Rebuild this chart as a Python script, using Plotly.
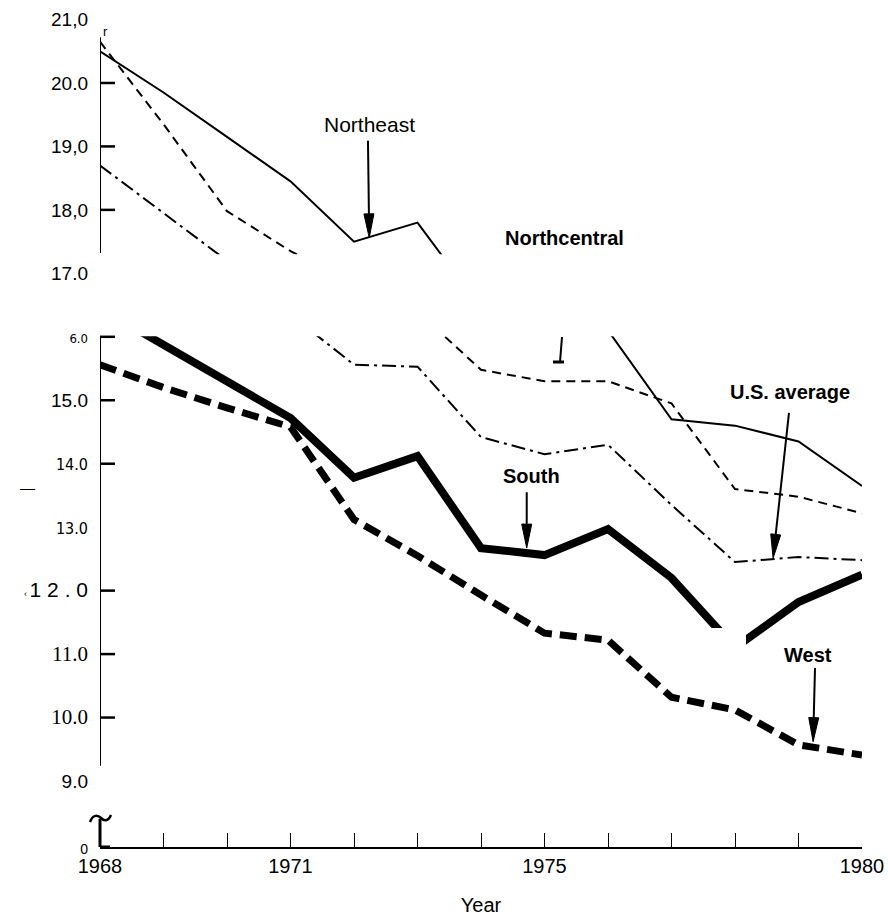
import math
import plotly.graph_objects as go

# ---------------- data ----------------
years = list(range(1968, 1981))
northeast = [20.5, 19.85, 19.15, 18.45, 17.5, 17.8, 16.45, 16.3, 16.1, 14.7, 14.6, 14.35, 13.65]
northcentral = [20.65, 19.35, 17.98, 17.35, 16.85, 16.4, 15.48, 15.3, 15.3, 14.95, 13.6, 13.48, 13.22]
us_average = [18.7, 17.95, 17.2, 16.35, 15.56, 15.53, 14.42, 14.15, 14.3, 13.35, 12.45, 12.53, 12.48]
south = [16.45, 15.87, 15.32, 14.72, 13.78, 14.12, 12.67, 12.56, 12.97, 12.2, 11.1, 11.82, 12.25]
west = [15.56, 15.2, 14.88, 14.58, 13.12, 12.55, 11.93, 11.33, 11.22, 10.32, 10.12, 9.57, 9.41]

x_tick_labels = ["1968", "", "", "1971", "", "", "", "1975", "", "", "", "", "1980"]
y_tick_vals = [7.96, 9, 10, 11, 12, 13, 14, 15, 16, 17, 18, 19, 20, 21]
y_tick_text = [
    '<span style="font-size:14px">0</span>',
    "9.0",
    '<span style="font-family:Liberation Serif;font-size:21px">10.0</span>',
    '<span style="font-family:Liberation Serif;font-size:21px">11.0</span>',
    '<span style="font-size:9px">‹ </span><span style="font-size:21px">1 2 . 0</span>',
    '<span style="font-family:Liberation Sans Narrow, DejaVu Sans Condensed;font-size:16px">13.0</span>',
    '<span style="font-family:Liberation Sans Narrow, DejaVu Sans Condensed;font-size:16px">14.0</span>',
    "15.0",
    '<span style="font-family:Liberation Sans Narrow, DejaVu Sans Condensed;font-size:13px">6.0</span>',
    "17.0", "18,0", "19,0", "20.0", "21,0",
]
y_tick_marks = [20, 19, 18, 16, 15, 14, 12, 11, 10]

# labels (text, year, value, bold, size)
labels = [
    ("Northeast", 1972.25, 19.35, False, 21),
    ("Northcentral", 1975.32, 17.56, True, 20),
    ("U.S. average", 1978.87, 15.13, True, 20),
    ("South", 1974.79, 13.81, True, 20),
    ("West", 1979.15, 10.99, True, 20),
]
# arrows (tail year, tail value, tip year, tip value)
arrows = [
    (1972.22, 19.09, 1972.24, 17.56),
    (1974.72, 13.55, 1974.72, 12.67),
    (1978.85, 14.80, 1978.60, 12.51),
    (1979.26, 10.78, 1979.23, 9.62),
]

# ---------------- geometry helpers (decorations) ----------------
W, H = 888, 917
ML, MR, MT, MB = 100, 26, 10, 70
X0, X1 = 1968, 1980
Y0, Y1 = 7.96, 21.15
sx = (W - ML - MR) / (X1 - X0)
sy = (H - MT - MB) / (Y1 - Y0)
PL, PT = ML, MT


def to_px(xv, yv):
    return PL + (xv - X0) * sx, PT + (Y1 - yv) * sy


def to_data(px, py):
    return X0 + (px - PL) / sx, Y1 - (py - PT) / sy


def to_paper(px, py):
    return (px - ML) / (W - ML - MR), 1 - (py - MT) / (H - MT - MB)


fig = go.Figure()
series = [
    (northeast, 2, "solid"),
    (northcentral, 2, "9px,6px"),
    (us_average, 2, "14px,5px,3px,5px"),
    (south, 8, "solid"),
    (west, 7, "17px,8px"),
]
for vals, w, d in series:
    fig.add_trace(go.Scatter(x=years, y=vals, mode="lines",
                             line=dict(color="black", width=w, dash=d),
                             showlegend=False, hoverinfo="skip"))

shapes = []
# masks (blank scan band and gap)
shapes.append(dict(type="rect", xref="x", yref="y", x0=1967.9, x1=1980.1,
                   y0=16.01, y1=17.30, fillcolor="white", line=dict(width=0), layer="above"))
gx0, gy0 = to_data(705, 628)
gx1, gy1 = to_data(746, 665)
shapes.append(dict(type="rect", xref="x", yref="y", x0=gx0, x1=gx1, y0=gy1, y1=gy0,
                   fillcolor="white", line=dict(width=0), layer="above"))
# y axis segments
for a, b in [(20.72, 17.32), (16.0, 9.24)]:
    shapes.append(dict(type="line", xref="x", yref="y", x0=1968, x1=1968, y0=a, y1=b,
                       line=dict(color="black", width=2), layer="above"))
# y tick marks
tl = 15 / sx
for v in y_tick_marks:
    shapes.append(dict(type="line", xref="x", yref="y", x0=1968, x1=1968 + tl, y0=v, y1=v,
                       line=dict(color="black", width=2.5), layer="above"))
# axis break (paper coordinates so it is not clipped)
b0 = to_paper(100, 847)
b1 = to_paper(100, 819)
shapes.append(dict(type="line", xref="paper", yref="paper", x0=b0[0], x1=b1[0], y0=b0[1], y1=b1[1],
                   line=dict(color="black", width=3), layer="above"))
pts = [(90, 822), (93, 814), (98, 815), (101, 818), (104, 821), (108, 822), (111, 815)]
dp = [to_paper(*p) for p in pts]
path = "M {},{} C {},{} {},{} {},{} C {},{} {},{} {},{}".format(
    *[c for p in dp for c in p])
shapes.append(dict(type="path", xref="paper", yref="paper", path=path,
                   line=dict(color="black", width=2.5), layer="above"))
f1 = to_paper(110, 847)
shapes.append(dict(type="line", xref="paper", yref="paper", x0=b0[0], x1=f1[0],
                   y0=b0[1], y1=f1[1], line=dict(color="black", width=3), layer="above"))
# Northcentral arrow fragment
ax0, ay0 = to_data(562, 337)
ax1, ay1 = to_data(560, 362)
bx0, _ = to_data(553, 362)
bx1, _ = to_data(564, 362)
shapes.append(dict(type="line", xref="x", yref="y", x0=ax0, y0=ay0, x1=ax1, y1=ay1,
                   line=dict(color="black", width=2), layer="above"))
shapes.append(dict(type="line", xref="x", yref="y", x0=bx0, y0=ay1, x1=bx1, y1=ay1,
                   line=dict(color="black", width=3), layer="above"))

# arrows with long narrow heads
for tx, ty, hx, hy in arrows:
    p0 = to_px(tx, ty)
    p1 = to_px(hx, hy)
    dx, dy = p1[0] - p0[0], p1[1] - p0[1]
    L = math.hypot(dx, dy)
    ux, uy = dx / L, dy / L
    hl, hw = 24, 5
    bxp, byp = p1[0] - ux * hl, p1[1] - uy * hl
    left = (bxp - uy * hw, byp + ux * hw)
    right = (bxp + uy * hw, byp - ux * hw)
    sb = to_data(bxp, byp)
    shapes.append(dict(type="line", xref="x", yref="y", x0=tx, y0=ty, x1=sb[0], y1=sb[1],
                       line=dict(color="black", width=2), layer="above"))
    tri = [to_data(*p1), to_data(*left), to_data(*right)]
    shapes.append(dict(type="path", xref="x", yref="y",
                       path="M {},{} L {},{} L {},{} Z".format(*[c for p in tri for c in p]),
                       fillcolor="black", line=dict(color="black", width=1), layer="above"))

annotations = []
for text, xv, yv, bold, size in labels:
    annotations.append(dict(x=xv, y=yv, xref="x", yref="y", showarrow=False,
                            text=f"<b>{text}</b>" if bold else text,
                            font=dict(size=size, color="black", family="Liberation Sans, Arial")))
rx, ry = to_data(105, 31)
annotations.append(dict(x=rx, y=ry, xref="x", yref="y",
                        showarrow=False, text="r", font=dict(size=13, color="black")))
annotations.append(dict(x=(18 - PL) / (W - ML - MR), y=to_data(0, 487)[1], xref="paper", yref="y",
                        showarrow=False, text="—", font=dict(size=15, color="black")))

fig.update_layout(
    width=W, height=H,
    margin=dict(l=ML, r=MR, t=MT, b=MB, autoexpand=False),
    paper_bgcolor="white", plot_bgcolor="white",
    font=dict(family="Liberation Sans, Arial", color="black", size=19),
    shapes=shapes, annotations=annotations,
    xaxis=dict(range=[X0, X1], tickmode="array", tickvals=years, ticktext=x_tick_labels,
               ticks="inside", ticklen=14, tickwidth=1.2, tickcolor="black",
               showline=True, linecolor="black", linewidth=2,
               showgrid=False, zeroline=False, tickfont=dict(size=20),
               title=dict(text="Year", font=dict(size=20), standoff=22)),
    yaxis=dict(range=[Y0, Y1], tickmode="array", tickvals=y_tick_vals, ticktext=y_tick_text,
               ticks="", showline=False, showgrid=False, zeroline=False,
               tickfont=dict(size=19), ticklabelstandoff=11),
)

fig.write_html("out.html", config={"displayModeBar": False},
               post_script="document.body.style.margin='0';document.body.style.overflow='hidden';")
